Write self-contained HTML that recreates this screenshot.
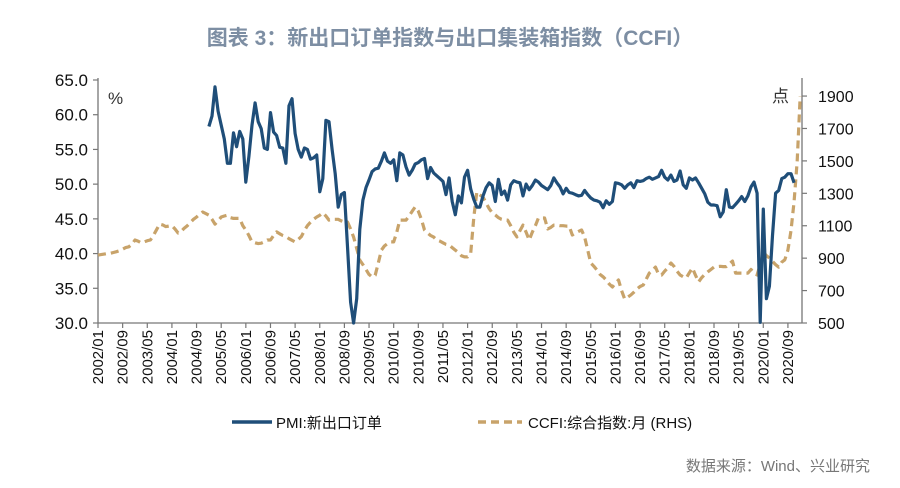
<!DOCTYPE html>
<html><head><meta charset="utf-8">
<style>
html,body{margin:0;padding:0;background:#fff;}
svg{display:block;font-family:"Liberation Sans","Noto Sans CJK SC",sans-serif;}
</style></head>
<body>
<svg id="chart" width="900" height="488" viewBox="0 0 900 488">
<text x="450" y="45" text-anchor="middle" font-size="21" font-weight="bold" fill="#7d8ea3">图表 3：新出口订单指数与出口集装箱指数（CCFI）</text>
<text x="108" y="104" font-size="17" fill="#333">%</text>
<text x="772" y="102" font-size="17" fill="#333">点</text>
<g id="axes"></g>
<g id="series"></g>
<g>
<line x1="232" y1="422" x2="272" y2="422" stroke="#1f4e79" stroke-width="3.5"/>
<text x="276" y="428" font-size="15" fill="#111">PMI:新出口订单</text>
<line x1="478" y1="422" x2="522" y2="422" stroke="#c8a36a" stroke-width="3.5" stroke-dasharray="8,5"/>
<text x="528" y="428" font-size="15" fill="#111">CCFI:综合指数:月 (RHS)</text>
</g>
<text x="870" y="471" text-anchor="end" font-size="15" fill="#777">数据来源：Wind、兴业研究</text>
</svg>
<script>
const leftTicks=[30,35,40,45,50,55,60,65];
const rightTicks=[500,700,900,1100,1300,1500,1700,1900];
const pmiStart=36;
const pmi=[58.3,59.8,64.0,60.5,58.5,56.5,53.0,53.0,57.4,55.4,57.6,56.5,
50.3,54.0,58.5,61.7,59.0,58.0,55.2,55.0,60.3,57.5,57.0,55.3,
55.2,53.0,61.3,62.3,57.3,55.0,53.9,55.2,55.0,53.6,53.8,54.2,
48.9,50.8,59.2,59.0,55.0,51.5,46.7,48.5,48.8,41.0,33.0,30.0,
33.5,43.5,47.7,49.5,50.6,51.8,52.2,52.3,53.3,54.5,53.3,53.0,
53.5,50.5,54.5,54.2,52.5,51.3,52.0,52.9,53.1,53.5,53.7,50.8,
52.4,51.6,51.2,50.8,50.4,48.5,50.9,47.5,45.6,48.3,47.3,51.0,
52.0,49.3,47.8,46.7,46.7,48.3,49.5,50.2,49.8,47.5,50.7,48.5,
49.0,47.7,49.9,50.5,50.3,50.2,48.3,50.0,49.2,49.8,50.6,50.3,
49.8,49.5,49.2,49.8,50.9,50.2,49.6,48.6,49.4,48.8,48.7,48.5,
48.3,48.4,49.1,48.5,48.0,47.7,47.6,47.4,46.6,47.6,47.1,47.5,
50.2,50.1,49.9,49.4,49.9,50.2,49.5,50.5,50.4,50.5,50.8,51.0,
50.7,50.9,51.1,52.0,51.0,50.6,51.3,50.4,50.6,51.9,49.9,49.4,
50.9,50.6,50.9,50.2,49.4,48.6,47.4,47.0,47.0,46.9,45.3,46.0,
49.2,46.7,46.6,47.1,47.6,48.2,47.5,48.3,49.6,50.3,48.7,30.1,
46.4,33.5,35.3,42.6,48.7,49.1,50.8,51.0,51.5,51.5,50.2];
const ccfi=[919,922,925,928,930,935,940,946,955,965,970,985,
1012,1005,995,1000,1008,1012,1040,1075,1110,1105,1095,1098,
1100,1080,1055,1065,1085,1100,1120,1140,1154,1170,1185,1175,
1165,1140,1110,1130,1154,1160,1165,1150,1145,1145,1145,1100,
1074,1040,1000,995,990,992,1000,1012,1012,1040,1062,1050,
1040,1033,1020,1010,1000,1015,1033,1070,1100,1122,1140,1154,
1165,1180,1160,1135,1140,1140,1140,1130,1123,1123,1080,1030,
960,888,860,830,800,784,795,870,950,975,990,1000,
1000,1060,1135,1135,1135,1160,1190,1216,1190,1140,1074,1055,
1040,1030,1012,1005,995,985,981,965,950,935,915,908,
908,930,1150,1308,1290,1277,1240,1205,1180,1166,1150,1140,
1135,1135,1100,1060,1031,1070,1104,1060,1012,1060,1100,1148,
1148,1148,1080,1090,1104,1104,1100,1100,1098,1098,1043,1055,
1065,1074,1031,950,870,850,827,800,785,765,740,722,
745,765,700,648,660,673,690,710,725,734,770,808,
825,845,800,796,820,840,870,850,820,796,785,778,
810,839,795,753,780,800,815,830,845,848,850,848,
848,865,882,808,808,808,808,808,830,810,796,860,
938,915,901,880,860,845,876,890,950,1070,1250,1500,
1900];
const NS="http://www.w3.org/2000/svg";
const X0=98,X1=802,Y0=323,YT=80;
const xS=m=>X0+m*3.08;
const yL=v=>Y0-(v-30)*(Y0-YT)/35;
const yR=v=>Y0-(v-500)*0.1621;
function mk(tag,attrs,parent){const e=document.createElementNS(NS,tag);for(const k in attrs)e.setAttribute(k,attrs[k]);parent.appendChild(e);return e;}
const ax=document.getElementById('axes');
const ser=document.getElementById('series');
let e;
e=mk('line',{x1:X0,y1:YT-2,x2:X0,y2:Y0,stroke:'#777','stroke-width':1.3},ax);


e=mk('line',{x1:X1,y1:YT-2,x2:X1,y2:Y0,stroke:'#777','stroke-width':1.3},ax);


e=mk('line',{x1:X0,y1:Y0,x2:X1,y2:Y0,stroke:'#777','stroke-width':1.3},ax);


leftTicks.forEach(v=>{
  const y=yL(v);
  mk('line',{x1:X0-5,y1:y,x2:X0,y2:y,stroke:'#777','stroke-width':1.2},ax);
  const t=mk('text',{x:X0-10,y:y+6,'text-anchor':'end','font-size':17,fill:'#111'},ax);
  t.textContent=v.toFixed(1);
  
  
});
rightTicks.forEach(v=>{
  const y=yR(v);
  mk('line',{x1:X1,y1:y,x2:X1+5,y2:y,stroke:'#777','stroke-width':1.2},ax);
  const t=mk('text',{x:X1+16,y:y+6,'font-size':16,fill:'#111'},ax);
  t.textContent=String(v);
  
  
});
for(let m=0;m<=224;m+=8){
  const x=xS(m);
  mk('line',{x1:x,y1:Y0,x2:x,y2:Y0+5,stroke:'#777','stroke-width':1.2},ax);
  const yr=2002+Math.floor(m/12),mo=m%12+1;
  const t=mk('text',{x:0,y:0,'text-anchor':'end','font-size':15,fill:'#111',transform:`translate(${x+5},${Y0+7}) rotate(-90)`},ax);
  t.textContent=yr+'/'+(mo<10?'0':'')+mo;
  
  
}
const cPts=ccfi.map((v,i)=>xS(i).toFixed(1)+','+yR(v).toFixed(1)).join(' ');
e=mk('polyline',{points:cPts,fill:'none',stroke:'#c8a36a','stroke-width':3.2,'stroke-dasharray':'8,5','stroke-linejoin':'round'},ser);


const pPts=pmi.map((v,i)=>xS(pmiStart+i).toFixed(1)+','+yL(v).toFixed(1)).join(' ');
e=mk('polyline',{points:pPts,fill:'none',stroke:'#1f4e79','stroke-width':3.2,'stroke-linejoin':'round'},ser);


</script>
</body></html>
